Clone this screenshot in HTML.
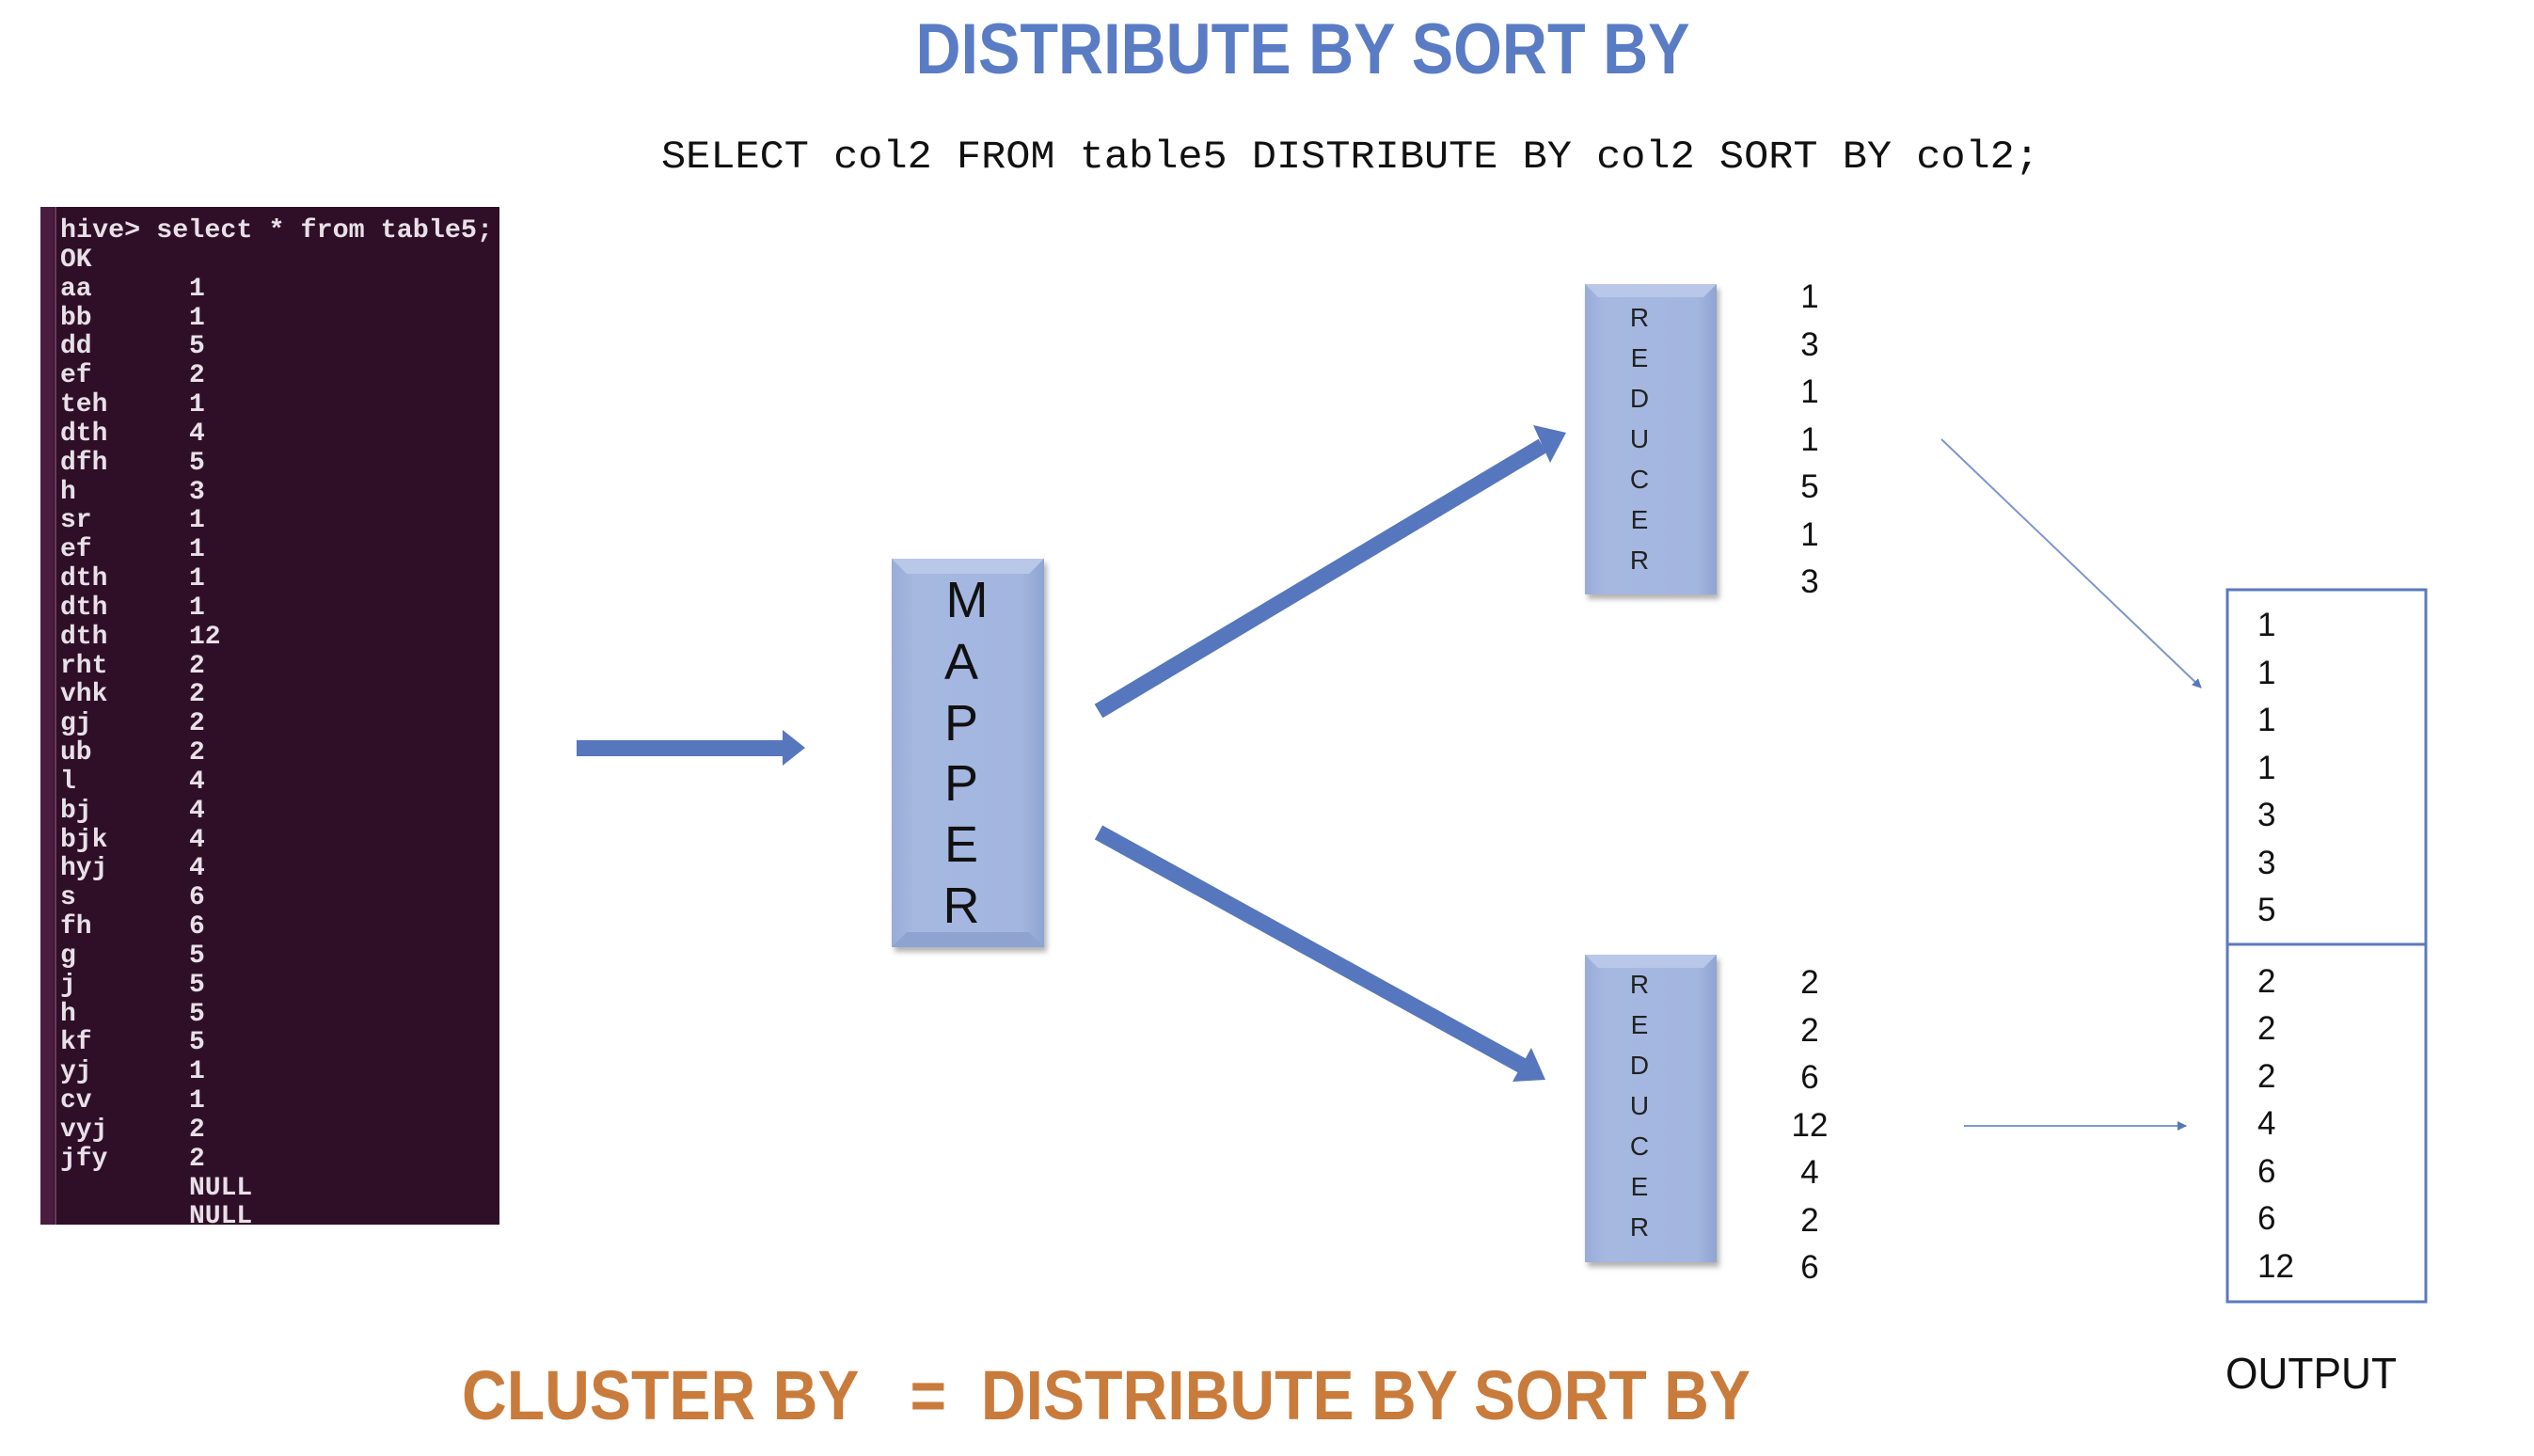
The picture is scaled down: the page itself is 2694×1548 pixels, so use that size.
<!DOCTYPE html>
<html><head><meta charset="utf-8"><style>
html,body{margin:0;padding:0;background:#fff;}
svg{display:block;}
</style></head><body>
<svg width="2694" height="1548" viewBox="0 0 2694 1548" xmlns="http://www.w3.org/2000/svg">
<defs>
<linearGradient id="bx" x1="0" y1="0" x2="1" y2="0">
<stop offset="0" stop-color="#98acd8"/><stop offset="0.15" stop-color="#a6b8e0"/><stop offset="0.85" stop-color="#a3b6df"/><stop offset="1" stop-color="#8fa4d2"/>
</linearGradient>
<filter id="sh" x="-10%" y="-10%" width="130%" height="130%"><feDropShadow dx="3" dy="5" stdDeviation="3" flood-color="#000" flood-opacity="0.3"/></filter>
<marker id="ah" viewBox="0 0 10 10" refX="9" refY="5" markerWidth="10" markerHeight="10" markerUnits="userSpaceOnUse" orient="auto"><path d="M0,0 L10,5 L0,10 z" fill="#5677bd"/></marker>
</defs>

<text x="1385" y="78" text-anchor="middle" font-family="Liberation Sans, sans-serif" font-weight="bold" font-size="76" fill="#5a7cc4" textLength="823" lengthAdjust="spacingAndGlyphs">DISTRIBUTE BY SORT BY</text>
<text x="703" y="178" font-family="Liberation Mono, monospace" font-size="42" fill="#111" textLength="1465" lengthAdjust="spacingAndGlyphs">SELECT col2 FROM table5 DISTRIBUTE BY col2 SORT BY col2;</text>

<!-- terminal -->
<rect x="43" y="220" width="488" height="1082" fill="#2f0f27"/>
<rect x="43" y="220" width="14" height="1082" fill="#4a1d40"/>
<rect x="58" y="220" width="2" height="1082" fill="#6a3a60"/>
<g font-family="Liberation Mono, monospace" font-weight="bold" font-size="28" fill="#e8e0e8">
<text x="64" y="252" textLength="460" lengthAdjust="spacingAndGlyphs">hive&gt; select * from table5;</text>
<text x="64" y="283">OK</text>
<text x="64" y="314">aa</text><text x="201" y="314">1</text>
<text x="64" y="345">bb</text><text x="201" y="345">1</text>
<text x="64" y="375">dd</text><text x="201" y="375">5</text>
<text x="64" y="406">ef</text><text x="201" y="406">2</text>
<text x="64" y="437">teh</text><text x="201" y="437">1</text>
<text x="64" y="468">dth</text><text x="201" y="468">4</text>
<text x="64" y="499">dfh</text><text x="201" y="499">5</text>
<text x="64" y="530">h</text><text x="201" y="530">3</text>
<text x="64" y="560">sr</text><text x="201" y="560">1</text>
<text x="64" y="591">ef</text><text x="201" y="591">1</text>
<text x="64" y="622">dth</text><text x="201" y="622">1</text>
<text x="64" y="653">dth</text><text x="201" y="653">1</text>
<text x="64" y="684">dth</text><text x="201" y="684">12</text>
<text x="64" y="715">rht</text><text x="201" y="715">2</text>
<text x="64" y="745">vhk</text><text x="201" y="745">2</text>
<text x="64" y="776">gj</text><text x="201" y="776">2</text>
<text x="64" y="807">ub</text><text x="201" y="807">2</text>
<text x="64" y="838">l</text><text x="201" y="838">4</text>
<text x="64" y="869">bj</text><text x="201" y="869">4</text>
<text x="64" y="900">bjk</text><text x="201" y="900">4</text>
<text x="64" y="930">hyj</text><text x="201" y="930">4</text>
<text x="64" y="961">s</text><text x="201" y="961">6</text>
<text x="64" y="992">fh</text><text x="201" y="992">6</text>
<text x="64" y="1023">g</text><text x="201" y="1023">5</text>
<text x="64" y="1054">j</text><text x="201" y="1054">5</text>
<text x="64" y="1085">h</text><text x="201" y="1085">5</text>
<text x="64" y="1115">kf</text><text x="201" y="1115">5</text>
<text x="64" y="1146">yj</text><text x="201" y="1146">1</text>
<text x="64" y="1177">cv</text><text x="201" y="1177">1</text>
<text x="64" y="1208">vyj</text><text x="201" y="1208">2</text>
<text x="64" y="1239">jfy</text><text x="201" y="1239">2</text>
<text x="201" y="1270">NULL</text>
<text x="201" y="1300">NULL</text>
</g>

<!-- left arrow -->
<rect x="613" y="787" width="222" height="17" fill="#5677bd"/>
<path d="M832,776 L856,795 L832,814 z" fill="#5677bd"/>

<!-- mapper -->
<g filter="url(#sh)"><rect x="948" y="594" width="162" height="413" fill="url(#bx)"/></g>
<path d="M948,594 L1110,594 L1094,610 L964,610 z" fill="#b9c8e8"/>
<path d="M948,1007 L1110,1007 L1094,991 L964,991 z" fill="#8ea3d0"/>
<g font-family="Liberation Sans, sans-serif" font-size="54" fill="#111" text-anchor="middle">
<text x="1028" y="656">M</text><text x="1022" y="722">A</text><text x="1022" y="787">P</text><text x="1022" y="851">P</text><text x="1022" y="916">E</text><text x="1022" y="981">R</text>
</g>

<!-- reducers -->
<g filter="url(#sh)"><rect x="1685" y="302" width="140" height="330" fill="url(#bx)"/><rect x="1685" y="1015" width="140" height="327" fill="url(#bx)"/></g>
<path d="M1685,302 L1825,302 L1811,316 L1699,316 z" fill="#b9c8e8"/>
<path d="M1685,1015 L1825,1015 L1811,1029 L1699,1029 z" fill="#b9c8e8"/>
<g font-family="Liberation Sans, sans-serif" font-size="28" fill="#222" text-anchor="middle">
<text x="1743" y="347">R</text><text x="1743" y="390">E</text><text x="1743" y="433">D</text><text x="1743" y="476">U</text><text x="1743" y="519">C</text><text x="1743" y="562">E</text><text x="1743" y="605">R</text>
<text x="1743" y="1056">R</text><text x="1743" y="1099">E</text><text x="1743" y="1142">D</text><text x="1743" y="1185">U</text><text x="1743" y="1228">C</text><text x="1743" y="1271">E</text><text x="1743" y="1314">R</text>
</g>

<!-- thick arrows -->
<line x1="1168" y1="756" x2="1640" y2="474" stroke="#5677bd" stroke-width="17"/>
<path d="M1630,452 L1665,460 L1648,492 z" fill="#5677bd"/>
<line x1="1168" y1="885" x2="1620" y2="1134" stroke="#5677bd" stroke-width="17"/>
<path d="M1628,1114 L1643,1148 L1608,1150 z" fill="#5677bd"/>

<!-- reducer numbers -->
<g font-family="Liberation Sans, sans-serif" font-size="35" fill="#111" text-anchor="middle">
<text x="1924" y="327">1</text><text x="1924" y="378">3</text><text x="1924" y="428">1</text><text x="1924" y="479">1</text><text x="1924" y="529">5</text><text x="1924" y="580">1</text><text x="1924" y="630">3</text>
<text x="1924" y="1056">2</text><text x="1924" y="1107">2</text><text x="1924" y="1157">6</text><text x="1924" y="1208">12</text><text x="1924" y="1258">4</text><text x="1924" y="1309">2</text><text x="1924" y="1359">6</text>
</g>

<!-- thin arrows -->
<line x1="2064" y1="467" x2="2340" y2="731" stroke="#7d96cf" stroke-width="2" marker-end="url(#ah)"/>
<line x1="2088" y1="1197" x2="2324" y2="1197" stroke="#7d96cf" stroke-width="2" marker-end="url(#ah)"/>

<!-- output box -->
<rect x="2368" y="627" width="211" height="757" fill="none" stroke="#5b78c0" stroke-width="3"/>
<line x1="2368" y1="1004" x2="2579" y2="1004" stroke="#5b78c0" stroke-width="3"/>
<g font-family="Liberation Sans, sans-serif" font-size="35" fill="#111">
<text x="2400" y="676">1</text><text x="2400" y="727">1</text><text x="2400" y="777">1</text><text x="2400" y="828">1</text><text x="2400" y="878">3</text><text x="2400" y="929">3</text><text x="2400" y="979">5</text>
<text x="2400" y="1055">2</text><text x="2400" y="1105">2</text><text x="2400" y="1156">2</text><text x="2400" y="1206">4</text><text x="2400" y="1257">6</text><text x="2400" y="1307">6</text><text x="2400" y="1358">12</text>
</g>
<text x="2366" y="1476" font-family="Liberation Sans, sans-serif" font-size="46" fill="#111" textLength="182" lengthAdjust="spacingAndGlyphs">OUTPUT</text>

<text x="491" y="1509" font-family="Liberation Sans, sans-serif" font-weight="bold" font-size="74" fill="#c97b3b" textLength="1370" lengthAdjust="spacingAndGlyphs" xml:space="preserve">CLUSTER BY   =  DISTRIBUTE BY SORT BY</text>
</svg>
</body></html>
